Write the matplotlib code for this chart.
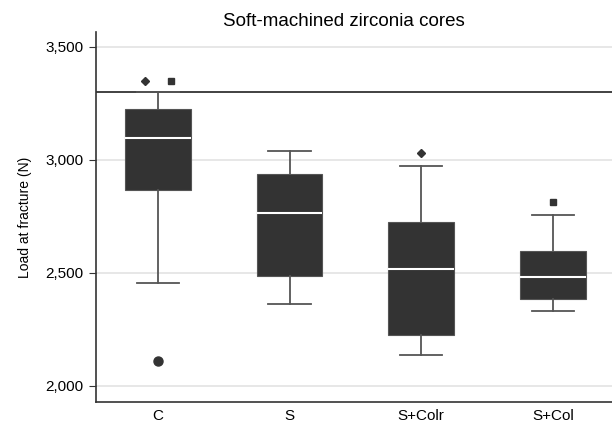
import matplotlib
matplotlib.use("Agg")
import matplotlib.pyplot as plt
from matplotlib.ticker import FuncFormatter

groups = ["C", "S", "S+Colr", "S+Col"]
q1 = [2867, 2487, 2226, 2385]
med = [3097, 2765, 2518, 2482]
q3 = [3226, 2938, 2726, 2597]
whislo = [2456, 2363, 2137, 2332]
whishi = [3300, 3040, 2973, 2757]
fliers = [[2111], [], [], []]

# significance-style markers (x position, value, marker)
marks_x = [0.9, 1.1, 3.0, 4.0]
marks_y = [3350, 3350, 3031, 2814]
marks_m = ["D", "s", "D", "s"]
ref_line = 3300

plt.rcParams["font.family"] = ["Liberation Sans", "DejaVu Sans"]
fig = plt.figure(figsize=(6.12, 4.25), dpi=100)
ax = fig.add_axes([0.157, 0.054, 0.843, 0.871])

dark = "#333333"
stats = [dict(label=g, q1=a, med=m, q3=b, whislo=lo, whishi=hi, fliers=f)
         for g, a, m, b, lo, hi, f in zip(groups, q1, med, q3, whislo, whishi, fliers)]
ax.bxp(stats, positions=range(1, 5), widths=0.5, capwidths=0.32, patch_artist=True,
       boxprops=dict(facecolor=dark, edgecolor="#555555", linewidth=0.8),
       medianprops=dict(color="white", linewidth=1.5),
       whiskerprops=dict(color="#555555", linewidth=1.3),
       capprops=dict(color="#555555", linewidth=1.3),
       flierprops=dict(marker="o", markerfacecolor=dark, markeredgecolor=dark, markersize=6.5))
for x, y, m in zip(marks_x, marks_y, marks_m):
    ax.plot(x, y, marker=m, color=dark, markersize=4 if m == "D" else 4.5, ls="none")

ax.axhline(ref_line, color="#333333", lw=1.3, zorder=1)

ax.set_xlim(0.53, 4.45)
ax.set_ylim(1929, 3566)
ax.set_yticks([2000, 2500, 3000, 3500])
ax.yaxis.set_major_formatter(FuncFormatter(lambda v, p: f"{int(v):,}"))
ax.grid(axis="y", color="#e3e3e3", lw=1.2, zorder=0)
ax.set_axisbelow(True)
for s in ("top", "right"):
    ax.spines[s].set_visible(False)
for s in ("left", "bottom"):
    ax.spines[s].set_color("#333333")
    ax.spines[s].set_linewidth(1.2)
ax.tick_params(axis="y", length=5, color="#333333", labelsize=11, pad=4)
ax.tick_params(axis="x", length=0, labelsize=11, pad=5)
ax.set_ylabel("Load at fracture (N)", fontsize=10, labelpad=10)
ax.set_title("Soft-machined zirconia cores", fontsize=13.5, pad=4, x=0.48)

fig.savefig("out.png", dpi=100)
